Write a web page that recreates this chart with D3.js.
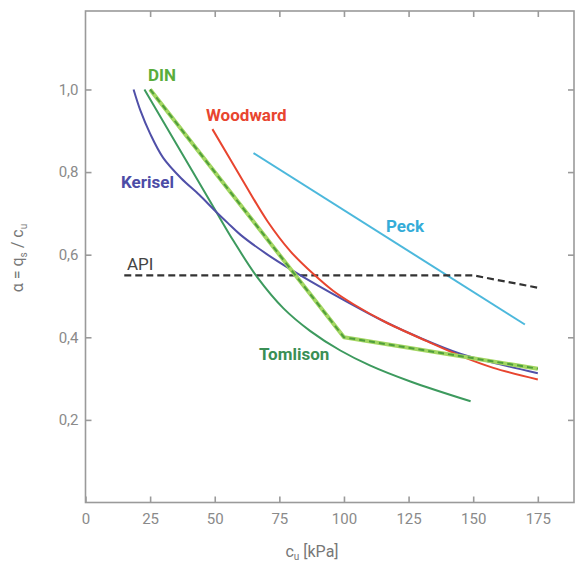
<!DOCTYPE html>
<html>
<head>
<meta charset="utf-8">
<script src="https://cdn.jsdelivr.net/npm/d3@7"></script>
<style>
  html, body { margin: 0; padding: 0; background: #fff; }
  svg { display: block; font-family: Roboto, "Noto Sans", sans-serif; }
</style>
</head>
<body>
<svg id="chart" width="575" height="564"></svg>
<script>
// ---- data (c_u in kPa, alpha) ----
const xTicks = [0, 25, 50, 75, 100, 125, 150, 175];
const yTicks = [0.2, 0.4, 0.6, 0.8, 1.0];
const yTickLabels = ["0,2", "0,4", "0,6", "0,8", "1,0"];

const kerisel = [[18.6,1.0],[21.3,0.948],[25,0.893],[30,0.835],[37,0.785],[44,0.745],[50,0.707],[55,0.677],[60,0.648],[70,0.602],[80,0.562],[90,0.525],[100,0.49],[115,0.44],[130,0.397],[145,0.36],[160,0.335],[175,0.313]];
const tomlison = [[22.8,1.0],[35,0.87],[50,0.71],[57.3,0.633],[66.5,0.545],[76.6,0.47],[87,0.415],[98.6,0.368],[110,0.332],[125.7,0.293],[149,0.245]];
const woodward = [[49.1,0.904],[61,0.778],[70.4,0.681],[79.3,0.608],[88.2,0.553],[95.9,0.512],[103.7,0.48],[116,0.437],[132.3,0.39],[145.1,0.355],[157.8,0.326],[175,0.298]];
const din = [[25,1.0],[100,0.4],[175,0.324]];
const peck = [[65,0.846],[170,0.431]];
const api = [[15,0.55],[150,0.55],[175,0.52]];

const seriesLabels = [
  {text: "DIN", x: 148, y: 81, color: "#5aad3c", weight: 700},
  {text: "Woodward", x: 206, y: 121, color: "#e8452f", weight: 700},
  {text: "Kerisel", x: 121, y: 188, color: "#4c4ca6", weight: 700},
  {text: "Peck", x: 386, y: 232, color: "#34acd8", weight: 700},
  {text: "API", x: 127, y: 270, color: "#444", weight: 400},
  {text: "Tomlison", x: 259, y: 360, color: "#3a8f55", weight: 700}
];

// ---- scales ----
const svg = d3.select("#chart");
const x = d3.scaleLinear().domain([0, 189]).range([85.5, 574]);
const y = d3.scaleLinear().domain([0, 1.19]).range([502.5, 11]);

const frameColor = "#9a9a9a";
const textColor = "#8a8a8a";

// frame
svg.append("rect")
  .attr("x", x(0)).attr("y", y(1.19))
  .attr("width", x(189) - x(0)).attr("height", y(0) - y(1.19))
  .attr("fill", "none").attr("stroke", frameColor).attr("stroke-width", 1.6);

function styleAxis(g, showText) {
  g.select(".domain").remove();
  g.selectAll(".tick line").attr("stroke", frameColor).attr("stroke-width", 1.6);
  g.selectAll(".tick text").attr("fill", textColor).style("font-size", "15px")
    .style("font-family", "Roboto, sans-serif");
  if (!showText) g.selectAll(".tick text").remove();
}

// bottom axis
svg.append("g").attr("transform", `translate(0,${y(0)})`)
  .call(d3.axisBottom(x).tickValues(xTicks).tickSize(-6).tickPadding(11).tickFormat(d3.format("d")))
  .call(g => styleAxis(g, true));
// top axis
svg.append("g").attr("transform", `translate(0,${y(1.19)})`)
  .call(d3.axisTop(x).tickValues(xTicks.filter(d => d > 0)).tickSize(-6))
  .call(g => styleAxis(g, false));
// left axis
svg.append("g").attr("transform", `translate(${x(0)},0)`)
  .call(d3.axisLeft(y).tickValues(yTicks).tickSize(-6).tickPadding(7)
    .tickFormat((d, i) => yTickLabels[i]))
  .call(g => styleAxis(g, true));
// right axis
svg.append("g").attr("transform", `translate(${x(189)},0)`)
  .call(d3.axisRight(y).tickValues(yTicks).tickSize(-6))
  .call(g => styleAxis(g, false));

// ---- lines ----
const smooth = d3.line().x(d => x(d[0])).y(d => y(d[1])).curve(d3.curveCatmullRom.alpha(0.5));
const straight = d3.line().x(d => x(d[0])).y(d => y(d[1]));

function addLine(data, gen, color, width, dash) {
  svg.append("path").datum(data).attr("d", gen)
    .attr("fill", "none").attr("stroke", color).attr("stroke-width", width)
    .attr("stroke-linejoin", "round")
    .attr("stroke-dasharray", dash || null);
}

addLine(peck, straight, "#4cb8dc", 2);
addLine(api, straight, "#333", 2.2, "7,4");
addLine(tomlison, smooth, "#3d9a5e", 2);
addLine(kerisel, smooth, "#5050a8", 2);
addLine(woodward, smooth, "#e8452f", 2);
addLine(din, straight, "#a3d662", 4);
addLine(din, straight, "#4f9e3c", 2, "6,4");

// ---- series labels ----
seriesLabels.forEach(l => {
  svg.append("text").attr("x", l.x).attr("y", l.y)
    .attr("fill", l.color).style("font-size", "17px").style("font-weight", l.weight)
    .text(l.text);
});

// ---- axis titles ----
const xt = svg.append("text").attr("x", 312).attr("y", 557).attr("text-anchor", "middle")
  .attr("fill", "#777").style("font-size", "16px");
xt.append("tspan").text("c");
xt.append("tspan").attr("dy", 3).style("font-size", "10px").text("u");
xt.append("tspan").attr("dy", -3).text(" [kPa]");

const yt = svg.append("text").attr("transform", "translate(23,258) rotate(-90)")
  .attr("text-anchor", "middle").attr("fill", "#777").style("font-size", "16px");
yt.append("tspan").text("α = q");
yt.append("tspan").attr("dy", 4).style("font-size", "10px").text("s");
yt.append("tspan").attr("dy", -4).text(" / c");
yt.append("tspan").attr("dy", 4).style("font-size", "10px").text("u");
</script>
</body>
</html>
